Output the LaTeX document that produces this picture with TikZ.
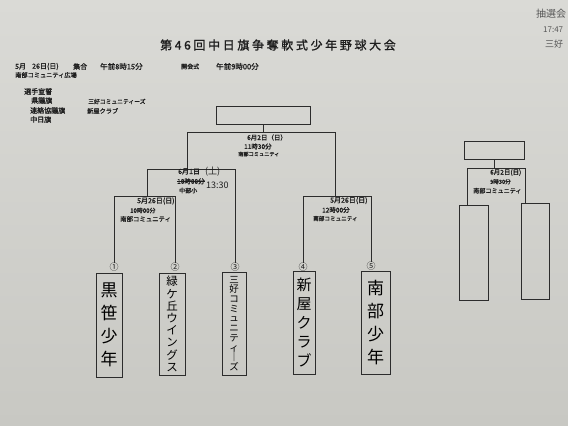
\documentclass[tikz,border=0pt]{standalone}
\usepackage{fontspec}
\setmainfont{Noto Sans CJK JP}
\newfontfamily\titlefont[LetterSpace=22,FakeBold=1.2]{Noto Sans CJK JP}
\newfontfamily\boldjp[FakeBold=1.2]{Noto Sans CJK JP}
\newfontfamily\handjp{Noto Sans CJK JP}
\definecolor{ink}{HTML}{1E1E1E}
\definecolor{lineink}{HTML}{2C2C2C}
\definecolor{paperT}{HTML}{DADAD6}
\definecolor{paperB}{HTML}{C8C8C3}
\tikzset{
  x=1pt,y=-1pt,
  info/.style={anchor=west,inner sep=0pt,text=ink,font=\boldjp\fontsize{7}{7}\selectfont},
  mt/.style={anchor=west,inner sep=0pt,text=ink,font=\boldjp\fontsize{#1}{#1}\selectfont},
  hand/.style={anchor=west,inner sep=0pt,text=ink,font=\handjp\fontsize{#1}{#1}\selectfont},
  bline/.style={draw=lineink,line width=0.8pt},
  tbox/.style={draw=lineink,line width=0.7pt,inner sep=0pt,align=center,text=black},
  cnum/.style={inner sep=0pt,text=ink,font=\handjp\fontsize{9}{9}\selectfont},
  emptybox/.style={draw=lineink,line width=0.8pt,inner sep=0pt}
}
\begin{document}
\begin{tikzpicture}
\useasboundingbox (0,0) rectangle (568,426);
\clip (0,0) rectangle (568,426);
\shade[top color=paperT,bottom color=paperB] (0,0) rectangle (568,426);

% title
\node[inner sep=0pt,text=ink,font=\titlefont\fontsize{12}{12}\selectfont] (title) at (278,45) {第46回中日旗争奪軟式少年野球大会};

% info
\node[info] (i1) at (15,66.5) {5月};
\node[info] (i2) at (32,66.5) {26日(日)};
\node[info] (i3) at (73,66.5) {集合};
\node[info,font=\boldjp\fontsize{7.5}{7.5}\selectfont] (i4) at (100,66.5) {午前8時15分};
\node[info,font=\boldjp\fontsize{6}{6}\selectfont] (i5) at (181,66.5) {開会式};
\node[info,font=\boldjp\fontsize{7.5}{7.5}\selectfont] (i6) at (216,66.5) {午前9時00分};
\node[info,font=\boldjp\fontsize{6.2}{6.2}\selectfont] (i7) at (15,75) {南部コミュニティ広場};
\node[info] (i8) at (24,91.5) {選手宣誓};
\node[info] (i9) at (31,100.5) {県議旗};
\node[info,font=\boldjp\fontsize{5.8}{5.8}\selectfont] (i10) at (88,101.5) {三好コミュニティーズ};
\node[info] (i11) at (30,110.5) {連絡協議旗};
\node[info,font=\boldjp\fontsize{6.2}{6.2}\selectfont] (i12) at (87,111) {新屋クラブ};
\node[info] (i13) at (30,119.5) {中日旗};

% handwritten notes top right
\node[hand=10,text=ink!75] (n1) at (536,14) {抽選会};
\node[hand=8,text=ink!75] (n2) at (543,30) {17:47};
\node[hand=9,text=ink!75] (n3) at (545,44) {三好};

% final box
\node[emptybox,minimum width=94pt,minimum height=18pt] (F) at (263,115) {};

% team boxes
\node[tbox,minimum width=26pt,minimum height=104pt,font=\handjp\fontsize{17}{23}\selectfont] (T1) at (109,325) {黒\\笹\\少\\年};
\node[tbox,minimum width=26pt,minimum height=102pt,font=\handjp\fontsize{11.5}{12.2}\selectfont] (T2) at (172,324) {緑\\ケ\\丘\\ウ\\イ\\ン\\グ\\ス};
\node[tbox,minimum width=24pt,minimum height=103pt,font=\handjp\fontsize{9.5}{9.7}\selectfont] (T3) at (234,323.5) {三\\好\\コ\\ミ\\ュ\\ニ\\テ\\ィ\\｜\\ズ};
\node[tbox,minimum width=22pt,minimum height=103pt,font=\handjp\fontsize{15}{19}\selectfont] (T4) at (304,322.5) {新\\屋\\ク\\ラ\\ブ};
\node[tbox,minimum width=29pt,minimum height=103pt,font=\handjp\fontsize{17}{23}\selectfont] (T5) at (375.5,322.5) {南\\部\\少\\年};

% circled numbers
\node[cnum] (c1) at (114,267) {①};
\node[cnum] (c2) at (175,267) {②};
\node[cnum] (c3) at (235,267) {③};
\node[cnum] (c4) at (303,267) {④};
\node[cnum] (c5) at (371,266) {⑤};

% bracket joints
\coordinate (a1) at (114,196);
\coordinate (a2) at (175,196);
\coordinate (a12) at (147,196);
\coordinate (b1) at (147,169);
\coordinate (b2) at (235,169);
\coordinate (b12) at (187,169);
\coordinate (a4) at (303,196);
\coordinate (a5) at (371,196);
\coordinate (a45) at (335,196);
\coordinate (d1) at (187,132);
\coordinate (d2) at (335,132);

\draw[bline] (c1.north) -- (a1) -- (a2) -- (c2.north);
\draw[bline] (a12) -- (b1) -- (b2) -- (c3.north);
\draw[bline] (c4.north) -- (a4) -- (a5) -- (c5.north);
\draw[bline] (b12) -- (d1) -- (d2) -- (a45);
\draw[bline] (F.south) -- (F.south |- d1);

% match texts: final
\node[mt=6.5] (f1) at (247,137.5) {6月2日（日）};
\node[mt=6.5] (f2) at (244,146.5) {11時30分};
\node[mt=5.2] (f3) at (238,154) {南部コミュニティ};
% semifinal
\node[mt=7] (s1) at (178,171.5) {6月1日};
\node[hand=9] (s1b) at (205,172) {(土)};
\node[mt=6.5] (s2) at (177,181.3) {10時00分};
\draw[line width=0.6pt,ink] (s2.west) -- (s2.east);
\node[hand=9] (s2b) at (206,185.5) {13:30};
\node[mt=6] (s3) at (179,190.5) {中部小};
% first round left
\node[mt=7] (l1) at (137,201) {5月26日(日)};
\node[mt=6] (l2) at (130,210.5) {10時00分};
\node[mt=6.4] (l3) at (120,219) {南部コミュニティ};
% first round right
\node[mt=7] (r1) at (330,200.5) {5月26日(日)};
\node[mt=6.5] (r2) at (322,210) {12時00分};
\node[mt=5.6] (r3) at (313,218.5) {南部コミュニティ};

% right mini bracket
\node[emptybox,minimum width=60pt,minimum height=18pt] (M) at (494,150) {};
\node[emptybox,minimum width=29pt,minimum height=95pt] (L) at (473.5,252.5) {};
\node[emptybox,minimum width=28pt,minimum height=96pt] (R) at (535,251) {};
\coordinate (m1) at (467,168);
\coordinate (m2) at (525,168);
\draw[bline] (m1 |- L.north) -- (m1) -- (m2) -- (m2 |- R.north);
\draw[bline] (M.south) -- (M.south |- m1);
\node[mt=6.5] (k1) at (490,172.5) {6月2日(日)};
\node[mt=5.6] (k2) at (490,181.7) {9時30分};
\node[mt=6.1] (k3) at (473,190.7) {南部コミュニティ};
\end{tikzpicture}
\end{document}
